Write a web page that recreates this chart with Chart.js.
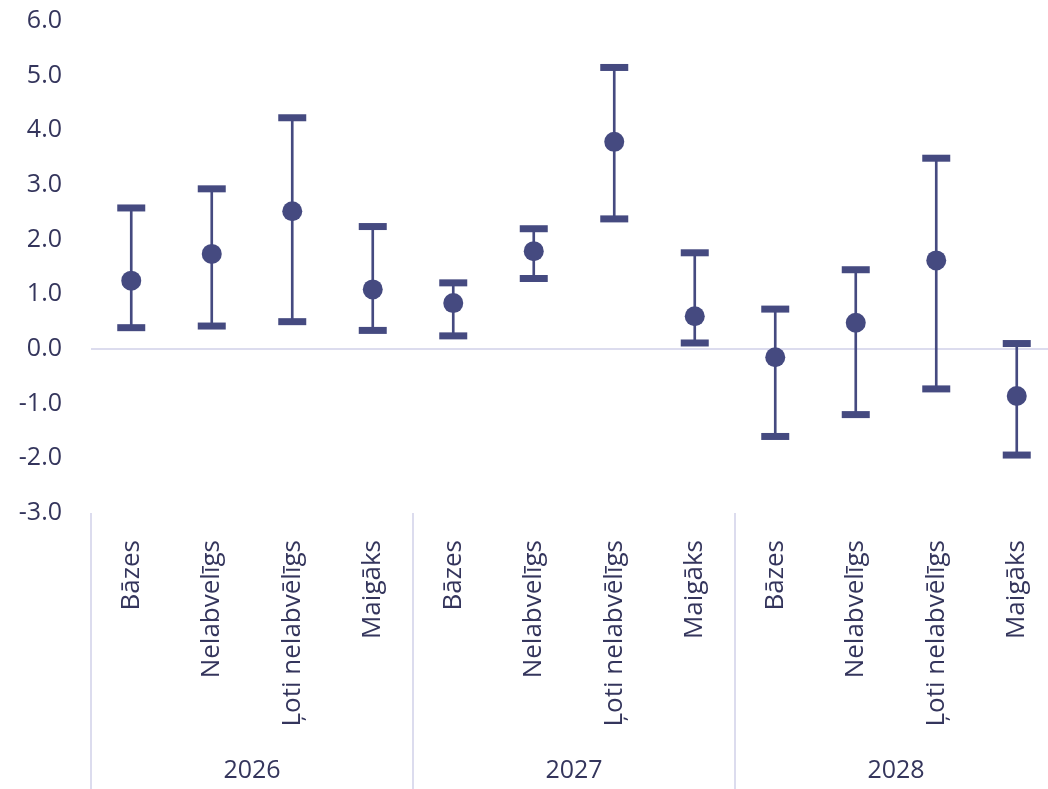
<!DOCTYPE html>
<html>
<head>
<meta charset="utf-8">
<script src="https://cdn.jsdelivr.net/npm/chart.js@4"></script>
<style>
  html, body { margin:0; padding:0; background:#fff; overflow:hidden; }
  canvas { display:block; }
</style>
</head>
<body>
<canvas id="chart" width="1078" height="789"></canvas>
<script>
const categories = ["Bāzes","Nelabvelīgs","Ļoti nelabvēlīgs","Maigāks",
                    "Bāzes","Nelabvelīgs","Ļoti nelabvēlīgs","Maigāks",
                    "Bāzes","Nelabvelīgs","Ļoti nelabvēlīgs","Maigāks"];
const groups = ["2026","2027","2028"];
const centre = [1.25, 1.74, 2.52, 1.09, 0.84, 1.79, 3.79, 0.60, -0.15, 0.48, 1.62, -0.86];
const low    = [0.39, 0.42, 0.50, 0.34, 0.24, 1.29, 2.38, 0.11, -1.60, -1.20, -0.73, -1.94];
const high   = [2.58, 2.93, 4.23, 2.24, 1.21, 2.20, 5.15, 1.76, 0.73, 1.45, 3.49, 0.10];

const ink = "#454a80";
const textCol = "#34355c";
const lineCol = "#dcdcee";
const font = "'Open Sans', 'Noto Sans', sans-serif";

// group separators and year labels under the rotated ticks
const groupAxis = {
  id: "groupAxis",
  afterDraw(chart){
    const {ctx, chartArea, scales} = chart;
    const x = scales.x;
    const per = categories.length / groups.length;
    const step = (chartArea.right - chartArea.left) / categories.length;
    ctx.save();
    ctx.strokeStyle = lineCol;
    ctx.lineWidth = 2;
    for (let g = 0; g <= groups.length; g++) {
      const gx = Math.round(chartArea.left + g * per * step);
      ctx.beginPath();
      ctx.moveTo(gx, chartArea.bottom);
      ctx.lineTo(gx, chart.height);
      ctx.stroke();
    }
    ctx.fillStyle = textCol;
    ctx.font = "25px " + font;
    ctx.textAlign = "center";
    ctx.textBaseline = "middle";
    groups.forEach((g, i) => {
      const cx = (x.getPixelForValue(i * per) + x.getPixelForValue(i * per + per - 1)) / 2;
      ctx.fillText(g, cx, 771);
    });
    ctx.restore();
  }
};

new Chart(document.getElementById("chart"), {
  type: "bar",
  data: {
    labels: categories,
    datasets: [
      { type:"bar", data: low.map((l, i) => [l, high[i]]), backgroundColor: ink,
        barThickness: 2, borderWidth: 0, order: 3 },
      { type:"line", data: high, showLine:false, pointStyle:"line", pointRadius:14,
        pointBorderWidth:7, pointBorderColor:ink, pointBackgroundColor:ink, order: 2 },
      { type:"line", data: low, showLine:false, pointStyle:"line", pointRadius:14,
        pointBorderWidth:7, pointBorderColor:ink, pointBackgroundColor:ink, order: 2 },
      { type:"line", data: centre, showLine:false, pointStyle:"circle", pointRadius:10,
        pointBorderWidth:0, pointBackgroundColor:ink, order: 1 }
    ]
  },
  options: {
    responsive: false,
    animation: false,
    events: [],
    layout: { padding: { top: 21, right: 1, left: 0, bottom: 0 } },
    plugins: { legend:{display:false}, tooltip:{enabled:false} },
    scales: {
      y: {
        min: -3, max: 6,
        afterFit(s){ s.width = 91; s.paddingTop = 0; s.paddingBottom = 0; },
        border: { display:false },
        grid: { drawTicks:false, lineWidth:2,
                color: c => c.tick && c.tick.value === 0 ? lineCol : "transparent" },
        ticks: { stepSize:1, padding:29, color:textCol, font:{ family:font, size:25 },
                 callback: v => v.toFixed(1) }
      },
      x: {
        afterFit(s){ s.height = 276; s.paddingLeft = 0; s.paddingRight = 0; },
        border: { display:false },
        grid: { display:false },
        ticks: { minRotation:90, maxRotation:90, autoSkip:false, padding:19,
                 color:textCol, font:{ family:font, size:26 } }
      }
    }
  },
  plugins: [groupAxis]
});
</script>
</body>
</html>
